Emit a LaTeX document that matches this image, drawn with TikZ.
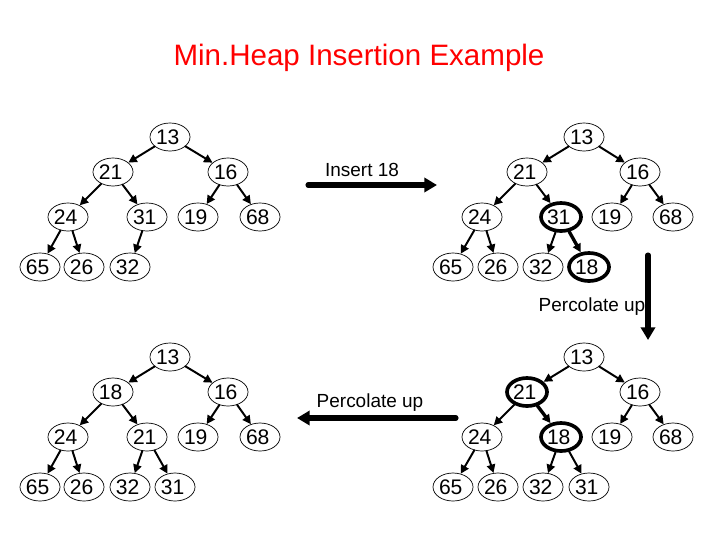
\documentclass[tikz,border=0pt]{standalone}
\usepackage{fontspec}
\setmainfont{Liberation Sans}
\usetikzlibrary{positioning, shapes.geometric, arrows.meta}

\tikzset{
  key/.style={ellipse, draw, line width=0.5pt, minimum width=40\unitpx, minimum height=28\unitpx,
    inner sep=0pt, text width=28\unitpx, align=left, font=\fontsize{15}{15}\selectfont},
  hot/.style={key, line width=2.6pt},
  edge/.style={-{Triangle[length=6pt,width=6pt]}, line width=1.4pt},
  hotedge/.style={edge, line width=2.4pt},
  bigarrow/.style={-{Triangle[length=9pt,width=10pt]}, line width=3.6pt}
}
\newcommand{\unitpx}{pt*0.7113}

\begin{document}
\begin{tikzpicture}[x=0.025cm, y=-0.025cm, line cap=round, line join=round]
        \useasboundingbox (0,0) rectangle (720,540);

        % title
        \node[text=red, font=\fontsize{21}{21}\selectfont] (title) at (359,58) {Min.Heap Insertion Example};

        % heap before insertion (top left)
        \node[key] (a13) at (170,137) {13};
        \node[key] (a21) at (113,172) {21};
        \node[key] (a16) at (228,172) {16};
        \node[key] (a24) at (68,217) {24};
        \node[key] (a31) at (147,217) {31};
        \node[key] (a19) at (198,217) {19};
        \node[key] (a68) at (260,217) {68};
        \node[key] (a65) at (40,267) {65};
        \node[key] (a26) at (84,267) {26};
        \node[key] (a32) at (130,267) {32};
        \foreach \p/\c in {a13/a21, a13/a16, a21/a24, a21/a31, a16/a19, a16/a68, a24/a65, a24/a26, a31/a32}
          \draw[edge] (\p) -- (\c);

        % 18 inserted as last leaf (top right)
        \node[key] (b13) at (584,137) {13};
        \node[key] (b21) at (527,172) {21};
        \node[key] (b16) at (640,172) {16};
        \node[key] (b24) at (482,217) {24};
        \node[hot] (b31) at (561,217) {31};
        \node[key] (b19) at (612,217) {19};
        \node[key] (b68) at (673,217) {68};
        \node[key] (b65) at (453,267) {65};
        \node[key] (b26) at (498,267) {26};
        \node[key] (b32) at (543,267) {32};
        \node[hot] (b18) at (589,267) {18};
        \foreach \p/\c in {b13/b21, b13/b16, b21/b24, b21/b31, b16/b19, b16/b68, b24/b65, b24/b26, b31/b32}
          \draw[edge] (\p) -- (\c);
        \draw[hotedge] (b31) -- (b18);

        % first swap (bottom right)
        \node[key] (c13) at (584,357) {13};
        \node[hot] (c21) at (527,392) {21};
        \node[key] (c16) at (640,392) {16};
        \node[key] (c24) at (482,437) {24};
        \node[hot] (c18) at (561,437) {18};
        \node[key] (c19) at (612,437) {19};
        \node[key] (c68) at (673,437) {68};
        \node[key] (c65) at (453,487) {65};
        \node[key] (c26) at (498,487) {26};
        \node[key] (c32) at (543,487) {32};
        \node[key] (c31) at (589,487) {31};
        \foreach \p/\c in {c13/c21, c13/c16, c21/c24, c16/c19, c16/c68, c24/c65, c24/c26, c18/c32, c18/c31}
          \draw[edge] (\p) -- (\c);
        \draw[hotedge] (c21) -- (c18);

        % final heap (bottom left)
        \node[key] (d13) at (170,357) {13};
        \node[key] (d18) at (113,392) {18};
        \node[key] (d16) at (228,392) {16};
        \node[key] (d24) at (68,437) {24};
        \node[key] (d21) at (147,437) {21};
        \node[key] (d19) at (198,437) {19};
        \node[key] (d68) at (260,437) {68};
        \node[key] (d65) at (40,487) {65};
        \node[key] (d26) at (84,487) {26};
        \node[key] (d32) at (130,487) {32};
        \node[key] (d31) at (175,487) {31};
        \foreach \p/\c in {d13/d18, d13/d16, d18/d24, d18/d21, d16/d19, d16/d68, d24/d65, d24/d26, d21/d32, d21/d31}
          \draw[edge] (\p) -- (\c);

        % step arrows
        \coordinate (s1) at (308,185);
        \coordinate (e1) at (437,185);
        \draw[bigarrow] (s1) -- (e1);
        \node[font=\fontsize{13.5}{13.5}\selectfont] (ins) at (362,170) {Insert 18};

        \coordinate (s2) at (648,255);
        \coordinate (e2) at (648,340);
        \draw[bigarrow] (s2) -- (e2);
        \node[font=\fontsize{13.5}{13.5}\selectfont] (up1) at (592,307) {Percolate up};

        \coordinate (s3) at (456,418);
        \coordinate (e3) at (297,418);
        \draw[bigarrow] (s3) -- (e3);
        \node[font=\fontsize{13.5}{13.5}\selectfont] (up2) at (370,403) {Percolate up};
\end{tikzpicture}
\end{document}
